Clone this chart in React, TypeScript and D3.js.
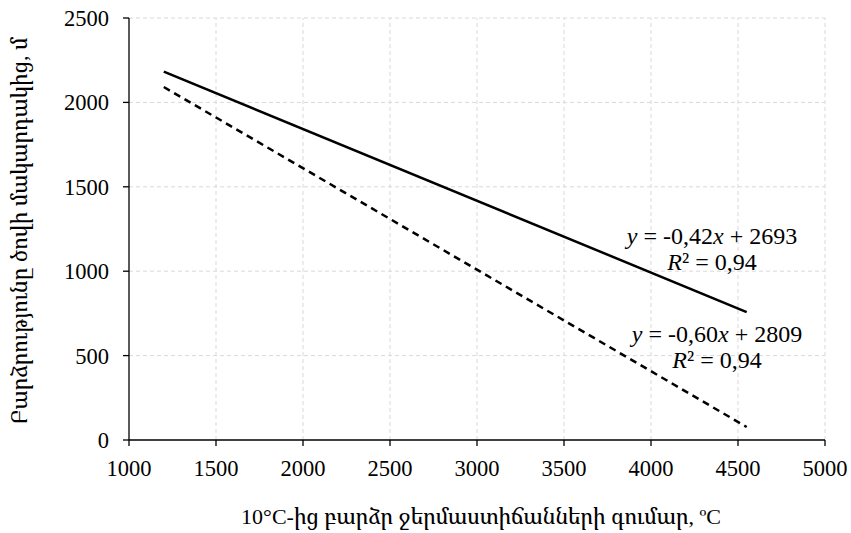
import * as d3 from 'd3';

const width = 851;
const height = 533;
const margin = { top: 18, right: 26, bottom: 93, left: 129 };

// trend line endpoints
const solidX = [1200, 4550];
const solidY = [2182, 758];
const dashedX = [1200, 4550];
const dashedY = [2091, 77];

const xTicks = [1000, 1500, 2000, 2500, 3000, 3500, 4000, 4500, 5000];
const yTicks = [0, 500, 1000, 1500, 2000, 2500];

const eqSolid = ['-0,42', '2693', '0,94'];
const eqDashed = ['-0,60', '2809', '0,94'];

const xTitle = '10°C-ից բարձր ջերմաստիճանների գումար, ºC';
const yTitle = 'Բարձրությունը ծովի մակարդակից, մ';

const font = 'Liberation Serif, Noto Serif Armenian, serif';

const x = d3.scaleLinear().domain([1000, 5000]).range([margin.left, width - margin.right]);
const y = d3.scaleLinear().domain([0, 2500]).range([height - margin.bottom, margin.top]);
const line = d3.line<[number, number]>().x((d) => x(d[0])).y((d) => y(d[1]));

const Equation = ({ cx, cy, vals }: { cx: number; cy: number; vals: string[] }) => (
  <g fontFamily={font} fontSize={24} textAnchor="middle">
    <text x={cx} y={cy}>
      <tspan fontStyle="italic">y</tspan>
      {` = ${vals[0]}`}
      <tspan fontStyle="italic">x</tspan>
      {` + ${vals[1]}`}
    </text>
    <text x={cx} y={cy + 26}>
      <tspan fontStyle="italic">R</tspan>
      {'² = ' + vals[2]}
    </text>
  </g>
);

const App = () => {
  const x0 = x(1000);
  const y0 = y(0);
  return (
    <svg
      width={width}
      height={height}
      style={{ position: 'absolute', left: 0, top: 0, background: '#fff' }}
    >
      {/* grid */}
      {xTicks.slice(1).map((t) => (
        <line key={'gx' + t} x1={x(t)} x2={x(t)} y1={y(0)} y2={y(2500)} stroke="#d9d9d9" strokeDasharray="4,3" />
      ))}
      {yTicks.slice(1).map((t) => (
        <line key={'gy' + t} x1={x(1000)} x2={x(5000)} y1={y(t)} y2={y(t)} stroke="#d9d9d9" strokeDasharray="4,3" />
      ))}

      {/* axes */}
      <line x1={x0} x2={x(5000)} y1={y0} y2={y0} stroke="#000" strokeWidth={1.3} />
      <line x1={x0} x2={x0} y1={y0} y2={y(2500)} stroke="#000" strokeWidth={1.3} />
      {xTicks.map((t) => (
        <g key={'tx' + t}>
          <line x1={x(t)} x2={x(t)} y1={y0} y2={y0 + 6} stroke="#000" strokeWidth={1.3} />
          <text x={x(t)} y={y0 + 36} textAnchor="middle" fontFamily={font} fontSize={22.5}>
            {t}
          </text>
        </g>
      ))}
      {yTicks.map((t) => (
        <g key={'ty' + t}>
          <line x1={x0 - 6} x2={x0} y1={y(t)} y2={y(t)} stroke="#000" strokeWidth={1.3} />
          <text x={x0 - 20} y={y(t) + 8} textAnchor="end" fontFamily={font} fontSize={22.5}>
            {t}
          </text>
        </g>
      ))}

      {/* trend lines */}
      <path
        d={line(solidX.map((v, i) => [v, solidY[i]] as [number, number])) || ''}
        fill="none"
        stroke="#000"
        strokeWidth={2.5}
      />
      <path
        d={line(dashedX.map((v, i) => [v, dashedY[i]] as [number, number])) || ''}
        fill="none"
        stroke="#000"
        strokeWidth={2.5}
        strokeDasharray="7,5"
      />

      <Equation cx={712} cy={244} vals={eqSolid} />
      <Equation cx={717} cy={342} vals={eqDashed} />

      {/* axis titles */}
      <text x={481} y={524} textAnchor="middle" fontFamily={font} fontSize={22}>
        {xTitle}
      </text>
      <text
        transform="translate(27,231) rotate(-90)"
        textAnchor="middle"
        fontFamily={font}
        fontSize={22}
      >
        {yTitle}
      </text>
    </svg>
  );
};

export default App;
